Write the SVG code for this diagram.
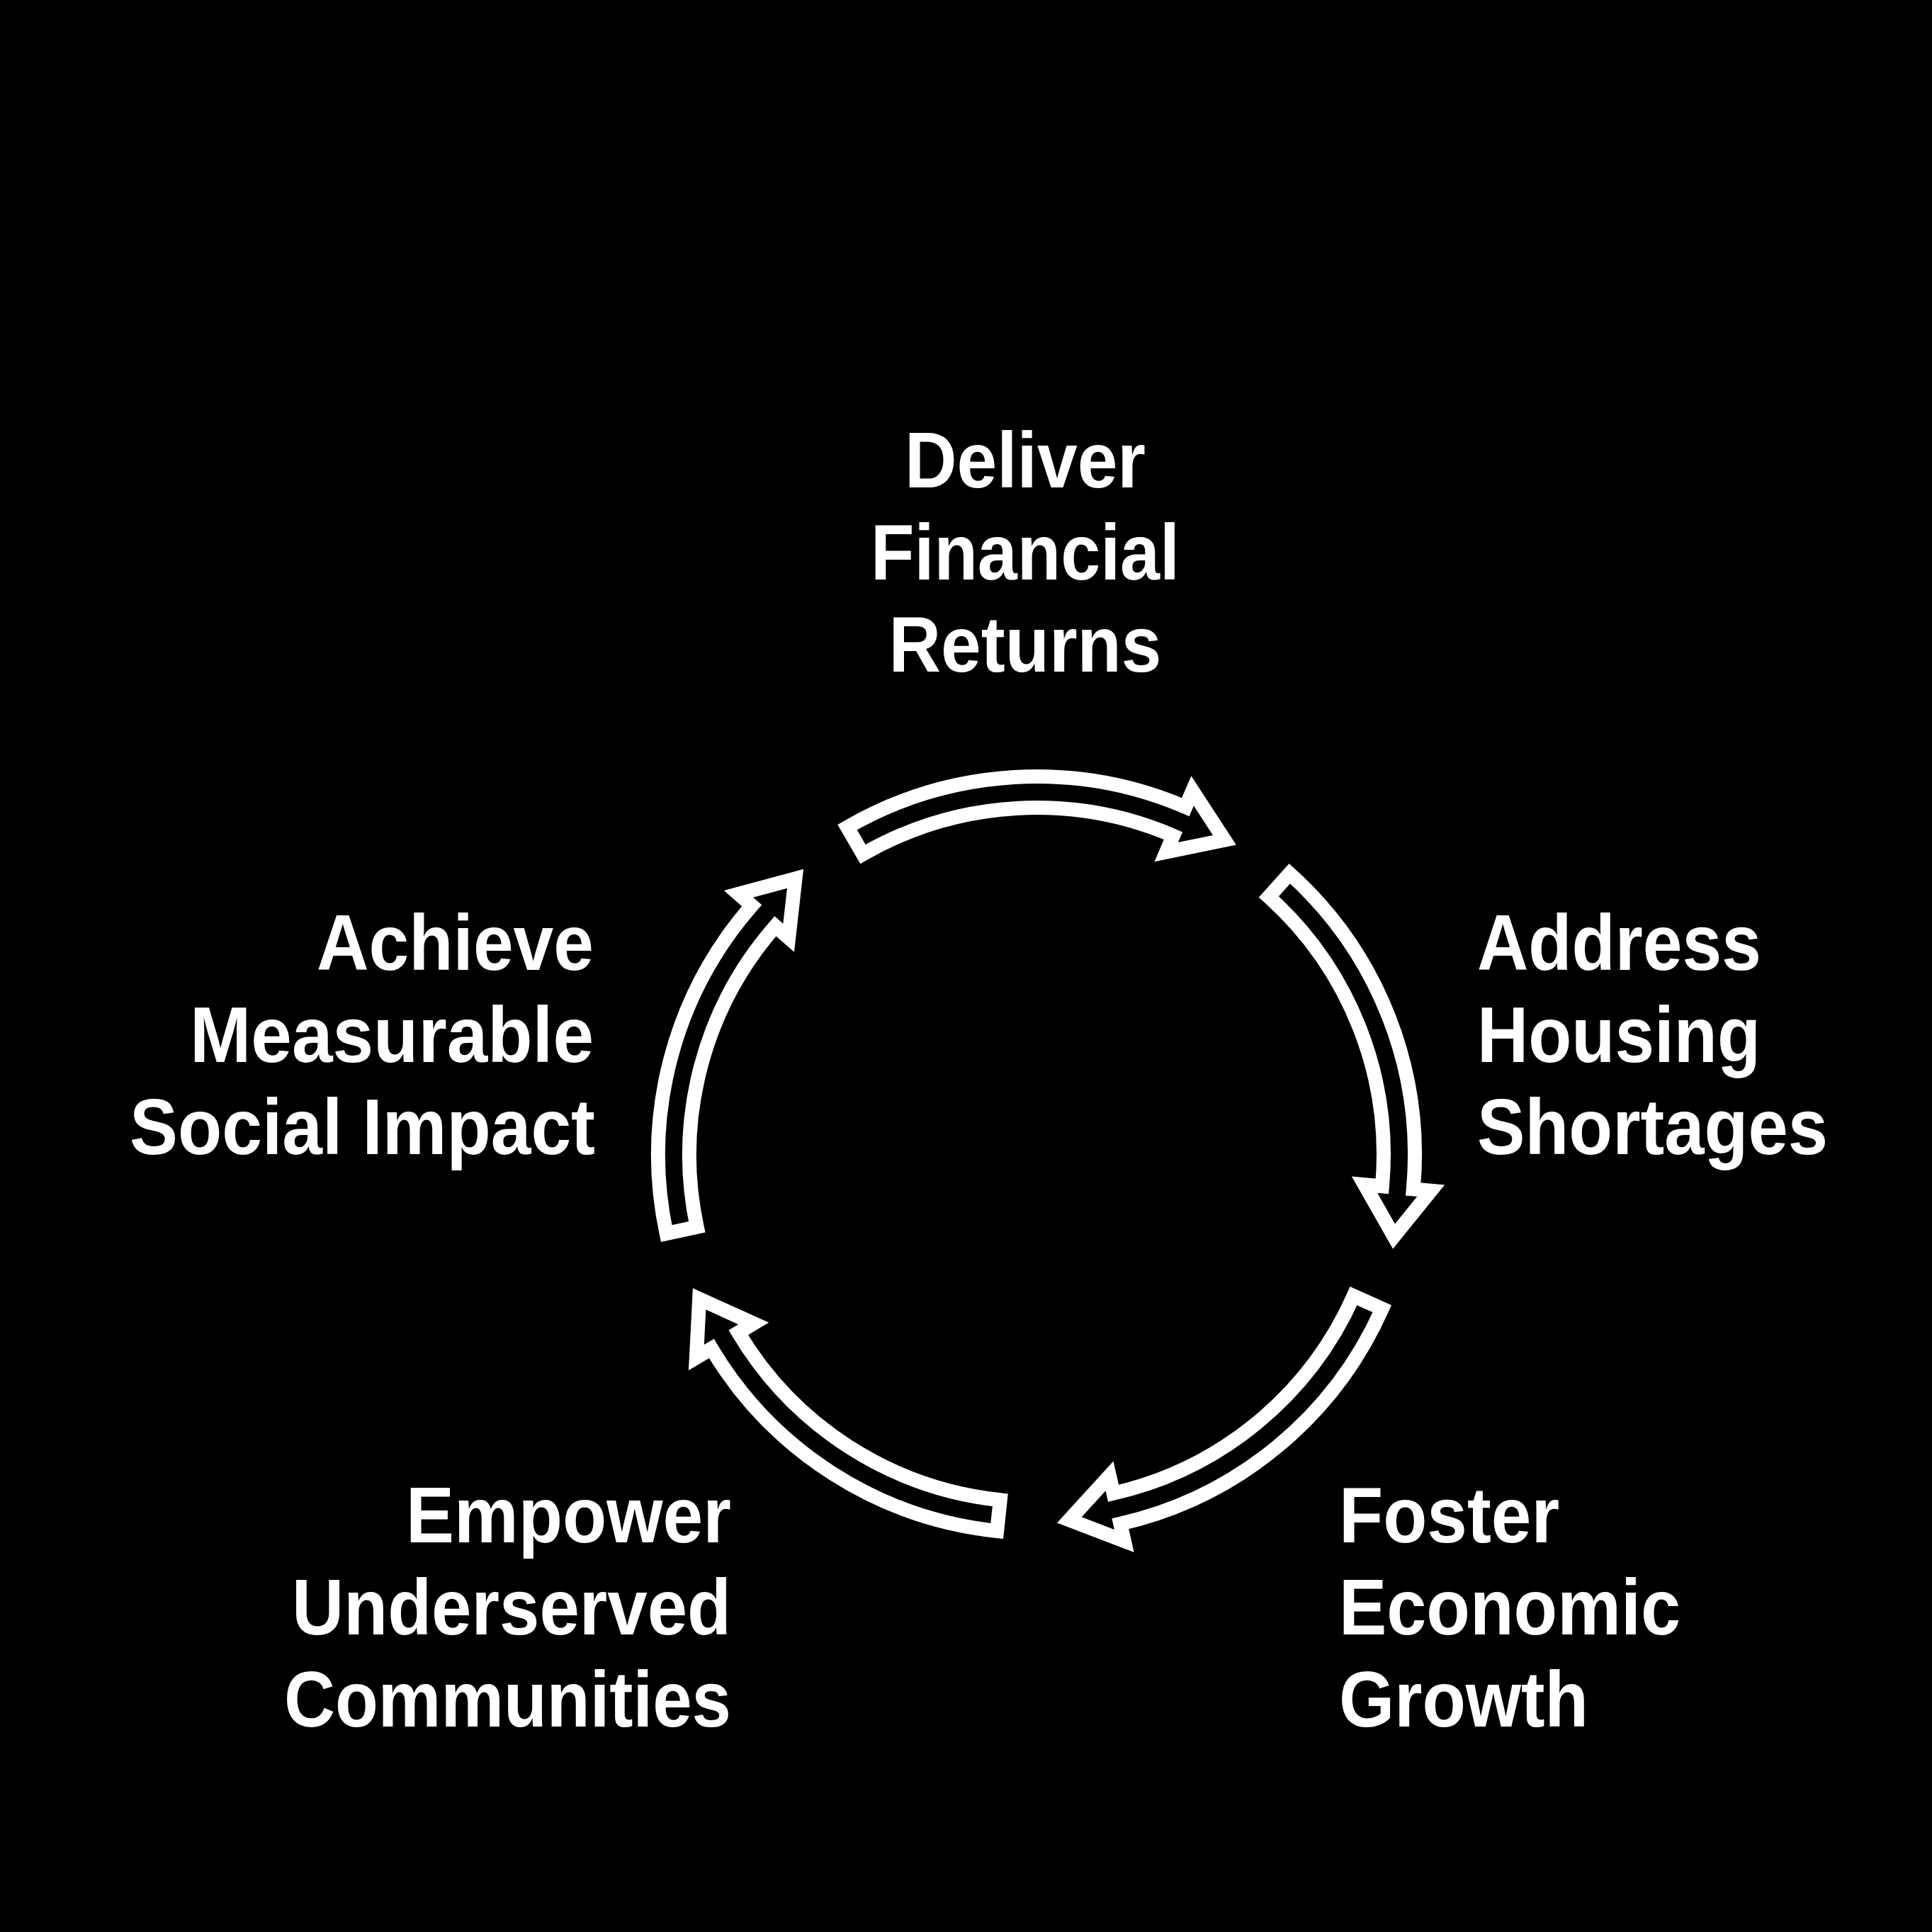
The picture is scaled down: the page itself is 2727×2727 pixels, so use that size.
<svg xmlns="http://www.w3.org/2000/svg" xmlns:xlink="http://www.w3.org/1999/xlink" width="2727" height="2727" viewBox="0 0 2727 2727">
<style>
.lbl{font-family:"Liberation Sans",Arial,sans-serif;font-weight:bold;font-size:112px;fill:#ffffff}
.arw{fill:none;stroke:#ffffff;stroke-width:20;stroke-linejoin:miter;stroke-miterlimit:6}
</style>
<defs>
<path id="arrow" class="arw" d="M534,0 A534,534 0 0 1 319.9,427.6 L334.8,447.6 L252,452 L278.5,372.3 L293.5,392.3 A490,490 0 0 0 490,0 Z"/>
</defs>
<rect x="0" y="0" width="2727" height="2727" fill="#000000"/>
<g id="connectors">
<use xlink:href="#arrow" transform="translate(1463,1630) rotate(240)"/>
<use xlink:href="#arrow" transform="translate(1463,1630) rotate(312)"/>
<use xlink:href="#arrow" transform="translate(1463,1630) rotate(24)"/>
<use xlink:href="#arrow" transform="translate(1463,1630) rotate(96)"/>
<use xlink:href="#arrow" transform="translate(1463,1630) rotate(168)"/>
</g>
<g id="node-deliver" class="lbl" text-anchor="middle">
<text x="1447" y="688" textLength="340" lengthAdjust="spacingAndGlyphs">Deliver</text>
<text x="1447" y="818" textLength="436" lengthAdjust="spacingAndGlyphs">Financial</text>
<text x="1447" y="948" textLength="385" lengthAdjust="spacingAndGlyphs">Returns</text>
</g>
<g id="node-address" class="lbl" text-anchor="start">
<text x="2085" y="1369" textLength="401" lengthAdjust="spacingAndGlyphs">Address</text>
<text x="2085" y="1499" textLength="400" lengthAdjust="spacingAndGlyphs">Housing</text>
<text x="2085" y="1629" textLength="495" lengthAdjust="spacingAndGlyphs">Shortages</text>
</g>
<g id="node-foster" class="lbl" text-anchor="start">
<text x="1890" y="2177" textLength="311" lengthAdjust="spacingAndGlyphs">Foster</text>
<text x="1890" y="2307" textLength="482" lengthAdjust="spacingAndGlyphs">Economic</text>
<text x="1890" y="2437" textLength="352" lengthAdjust="spacingAndGlyphs">Growth</text>
</g>
<g id="node-empower" class="lbl" text-anchor="end">
<text x="1032" y="2177" textLength="459" lengthAdjust="spacingAndGlyphs">Empower</text>
<text x="1032" y="2307" textLength="620" lengthAdjust="spacingAndGlyphs">Underserved</text>
<text x="1032" y="2437" textLength="631" lengthAdjust="spacingAndGlyphs">Communities</text>
</g>
<g id="node-achieve" class="lbl" text-anchor="end">
<text x="838" y="1369" textLength="391" lengthAdjust="spacingAndGlyphs">Achieve</text>
<text x="838" y="1499" textLength="570" lengthAdjust="spacingAndGlyphs">Measurable</text>
<text x="840" y="1629" textLength="657" lengthAdjust="spacingAndGlyphs">Social Impact</text>
</g>
</svg>
